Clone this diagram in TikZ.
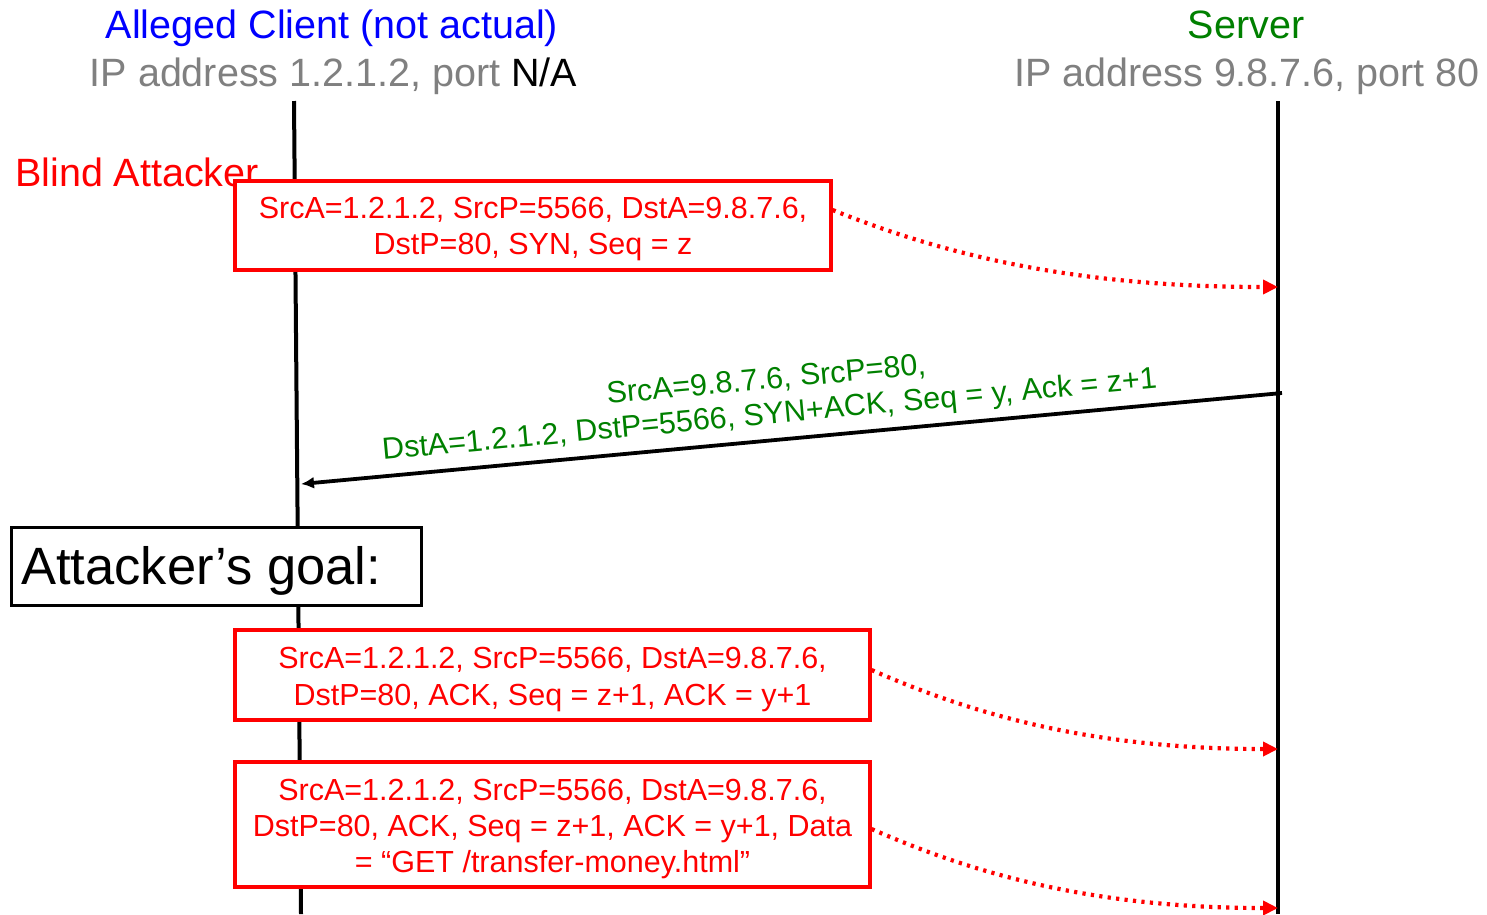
\documentclass[tikz,border=0pt]{standalone}
\usepackage{fontspec}
\setmainfont{Liberation Sans}
\usetikzlibrary{arrows.meta,calc}
\definecolor{hgreen}{RGB}{0,128,0}
\definecolor{hgray}{RGB}{128,128,128}
\tikzset{
  head/.style={font=\fontsize{39.5}{45}\selectfont, inner sep=0pt, anchor=base},
  life/.style={line width=4pt, black},
  pkt/.style={draw=red, line width=3.2pt, fill=white},
  pkttext/.style={text=red, align=center, font=\fontsize{30.5}{36}\selectfont, inner sep=0pt},
  dotarrow/.style={red, line width=4.2pt, dash pattern=on 3.2pt off 5.3pt,
     -{Triangle[length=15pt,width=14pt]}},
}
\begin{document}
\begin{tikzpicture}[x=1pt,y=-1pt]
\useasboundingbox (0,0) rectangle (1487,914);
% headers
\node[head, text=blue] (cl1) at (332,38) {Alleged Client (not actual)};
\node[head, text=hgray] (cl2) at (333.5,86) {IP address 1.2.1.2, port \textcolor{black}{N/A}};
\node[head, text=hgreen] (sv1) at (1246,38) {Server};
\node[head, text=hgray] (sv2) at (1247,86) {IP address 9.8.7.6, port 80};
% lifelines
\coordinate (ctop) at (294,101);
\coordinate (cbot) at (301,914);
\coordinate (stop) at (1278,101);
\coordinate (sbot) at (1278,914);
\draw[life] (ctop) -- (cbot);
\draw[life] (stop) -- (sbot);
% blind attacker
\node[head, anchor=base west, text=red] (blind) at (15,186) {Blind Attacker};
% packet 1
\node[pkt, minimum width=596pt, minimum height=89pt] (p1) at (533,225.5) {};
\node[pkttext] (p1t) at (533,229.5) {SrcA=1.2.1.2, SrcP=5566, DstA=9.8.7.6,\\DstP=80, SYN, Seq = z};
\coordinate (s1) at (1278,287);
\draw[dotarrow] ([yshift=15.5pt]p1.east) .. controls +(117,47) and +(-198,0) .. (s1);
% SYN+ACK
\coordinate (g0) at (1282,393);
\coordinate (g1) at (301,484);
\draw[line width=3.8pt, -{Latex[length=13pt,width=12pt]}] (g0) -- (g1);
\node[text=hgreen, rotate=5.3, align=center, font=\fontsize{30.5}{35}\selectfont, inner sep=0pt] (synack) at (768,399)
  {SrcA=9.8.7.6, SrcP=80,\\DstA=1.2.1.2, DstP=5566, SYN+ACK, Seq = y, Ack = z+1};
% goal
\node[draw=black, line width=3pt, fill=white, minimum width=410pt, minimum height=78pt] (goal) at (216,566) {};
\node[anchor=west, inner sep=0pt, font=\fontsize{52.5}{60}\selectfont] (goalt) at (21,571) {Attacker’s goal:};
% packet 3
\node[pkt, minimum width=635pt, minimum height=90pt] (p3) at (552.5,675) {};
\node[pkttext] (p3t) at (552.5,679.5) {SrcA=1.2.1.2, SrcP=5566, DstA=9.8.7.6,\\DstP=80, ACK, Seq = z+1, ACK = y+1};
\coordinate (s3) at (1278,749);
\draw[dotarrow] ([yshift=5pt]p3.east) .. controls +(107,47) and +(-180,0) .. (s3);
% packet 4
\node[pkt, minimum width=635pt, minimum height=125pt] (p4) at (552.5,824.5) {};
\node[pkttext] (p4t) at (552.5,828.5) {SrcA=1.2.1.2, SrcP=5566, DstA=9.8.7.6,\\DstP=80, ACK, Seq = z+1, ACK = y+1, Data\\= “GET /transfer-money.html”};
\coordinate (s4) at (1278,908);
\draw[dotarrow] ([yshift=-4.5pt]p4.east) .. controls +(107,47) and +(-180,0) .. (s4);
\end{tikzpicture}
\end{document}
